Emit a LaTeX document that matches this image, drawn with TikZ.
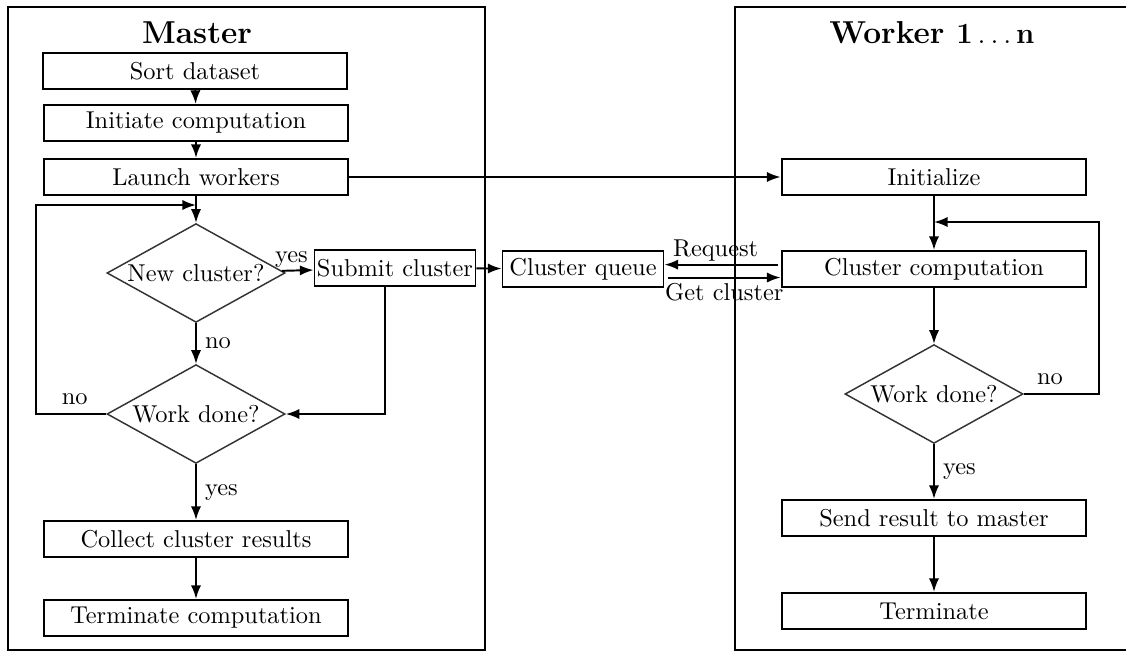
\documentclass[tikz,border=0pt]{standalone}
\usetikzlibrary{shapes.geometric,arrows.meta}
\tikzset{
  stepbox/.style={draw,thick,minimum width=125pt,minimum height=14.8pt,inner sep=1pt},
  smallbox/.style={draw,thick,minimum width=66pt,minimum height=14.8pt,inner sep=1pt},
  decision/.style={diamond,draw=black!80,semithick,aspect=1.8,inner sep=0pt,minimum width=73pt,minimum height=40.5pt},
  flow/.style={thick,-{Latex[length=5.6pt,width=4.2pt]}},
  lane/.style={thick},
  lanetitle/.style={font=\fontsize{13}{15}\selectfont\bfseries}
}
\begin{document}
\begin{tikzpicture}[x=0.41pt,y=-0.41pt]
    % bbox = reference canvas in px
    \useasboundingbox (0,0) rectangle (1126,653);

    % lanes
    \draw[lane] (8,7) rectangle (485,650);
    \draw[lane] (735,7) rectangle (1140,650);
    \node[lanetitle] (mtitle) at (197,33) {Master};
    \node[lanetitle] (wtitle) at (932,33) {Worker $\mathbf{1\ldots n}$};

    % master column
    \node[stepbox] (sort) at (195,71) {Sort dataset};
    \node[stepbox] (init) at (196,123) {Initiate computation};
    \node[stepbox] (launch) at (196,177) {Launch workers};
    \coordinate (mjoin) at (196,205);
    \node[decision] (newcl) at (196,273) {New cluster?};
    \node[smallbox] (submit) at (395,268) {Submit cluster};
    \node[decision] (mdone) at (196,414) {Work done?};
    \node[stepbox] (collect) at (196,539) {Collect cluster results};
    \node[stepbox] (mterm) at (196,618) {Terminate computation};

    % queue in between
    \node[smallbox] (queue) at (583,269) {Cluster queue};

    % worker column
    \node[stepbox] (winit) at (934,177) {Initialize};
    \coordinate (wjoin) at (934,222);
    \node[stepbox] (ccomp) at (934,269) {Cluster computation};
    \node[decision] (wdone) at (934,394) {Work done?};
    \node[stepbox] (send) at (934,518) {Send result to master};
    \node[stepbox] (wterm) at (934,611) {Terminate};

    % master flow
    \draw[flow] (sort) -- (init);
    \draw[flow] (init) -- (launch);
    \draw[flow] (launch) -- (newcl);
    \draw[flow] (newcl) -- node[above,pos=0.3,inner sep=1pt] (myes) {yes} (submit);
    \draw[flow] (newcl) -- node[right] (mno) {no} (mdone);
    \draw[flow] ([xshift=-4pt]submit.south) |- (mdone.east);
    \draw[flow] (mdone.west) -- node[above,pos=0.45] (mno2) {no} ++(-70,0) |- (mjoin);
    \draw[flow] (mdone) -- node[right] (myes2) {yes} (collect);
    \draw[flow] (collect) -- (mterm);

    % between the lanes
    \draw[flow] (launch) -- (winit);
    \draw[flow] (submit) -- (queue);
    \draw[flow] ([xshift=-1pt,yshift=1.8pt]ccomp.west) -- node[above,pos=0.55,inner sep=1pt] (req) {Request} ([yshift=1.8pt]queue.east);
    \draw[flow] ([xshift=1.5pt,yshift=-3.5pt]queue.east) -- node[below,pos=0.5,inner sep=2pt] (get) {Get cluster} ([yshift=-3.5pt]ccomp.west);

    % worker flow
    \draw[flow] (winit) -- (ccomp);
    \draw[flow] (ccomp) -- (wdone);
    \draw[flow] (wdone.east) -- node[above,pos=0.35] (wno) {no} ++(75,0) |- (wjoin);
    \draw[flow] (wdone) -- node[right] (wyes) {yes} (send);
    \draw[flow] (send) -- (wterm);
  \end{tikzpicture}
\end{document}
